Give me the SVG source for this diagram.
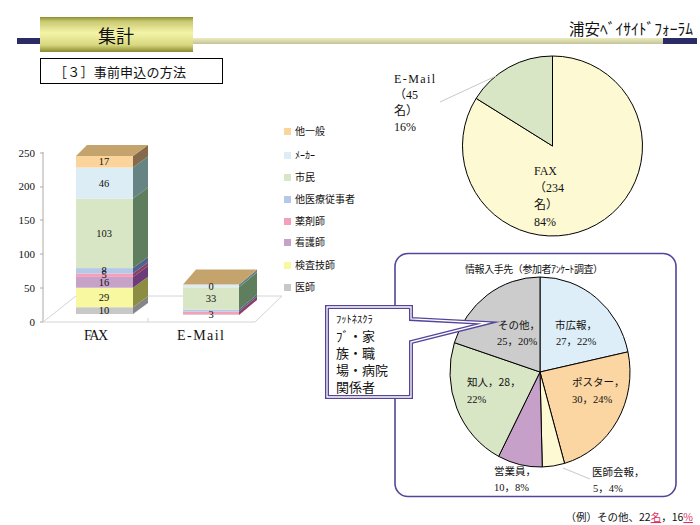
<svg xmlns="http://www.w3.org/2000/svg" width="700" height="525" viewBox="0 0 700 525">
<defs>
<linearGradient id="gTitle" x1="0" y1="0" x2="0" y2="1">
<stop offset="0" stop-color="#8e8e34"/>
<stop offset="0.12" stop-color="#c8c870"/>
<stop offset="0.45" stop-color="#f4f4a8"/>
<stop offset="0.8" stop-color="#d8d880"/>
<stop offset="1" stop-color="#8a8a30"/>
</linearGradient>
<linearGradient id="gBar" x1="0" y1="0" x2="0" y2="1">
<stop offset="0" stop-color="#ececc4"/>
<stop offset="1" stop-color="#c4c494"/>
</linearGradient>
</defs>
<style>
.t{font-family:"Liberation Serif","Noto Sans CJK JP",serif;fill:#111}
.j{font-family:"Noto Sans CJK JP","Liberation Serif",serif;fill:#111}
.ax{font-size:11px;text-anchor:end}
.dl{font-size:10.5px;text-anchor:middle}
.lg{font-size:10px}
.pl{font-size:12px}
.bl{font-size:10.5px}
.cl{font-size:13px}
.sl{stroke:#000;stroke-width:1}
.lead{stroke:#c8c8c8;stroke-width:1;fill:none}
.floor{stroke:#d4d4d4;stroke-width:1;fill:none}
</style>

<g id="header">
<rect x="17" y="38" width="24" height="6" fill="#2b2b66"/>
<rect x="193" y="38" width="471" height="6" fill="url(#gBar)"/>
<rect x="663" y="38" width="34" height="6" fill="#2b2b66"/>
<rect x="40" y="17" width="153" height="35" fill="url(#gTitle)"/>
<text class="j" x="116" y="43" font-size="18" text-anchor="middle">集計</text>
<text class="j" x="693" y="35" font-size="15.5" text-anchor="end">浦安ﾍﾞｲｻｲﾄﾞﾌｫｰﾗﾑ</text>
</g>

<g id="subtitle">
<rect x="40.5" y="58.5" width="182" height="25" fill="#fff" stroke="#000" stroke-width="1"/>
<text class="j" x="54" y="77" font-size="13" textLength="132">［３］事前申込の方法</text>
</g>

<g id="bar-chart">
<g id="axis">
<line x1="43" y1="152" x2="43" y2="322" stroke="#aaa"/>
<path d="M40,153H43M40,187H43M40,220H43M40,254H43M40,288H43M40,322H43" stroke="#aaa"/>
<path class="floor" d="M43,322L76,296H282L255,322ZM148,318V322"/>
<text class="t ax" x="35" y="157">250</text>
<text class="t ax" x="35" y="190">200</text>
<text class="t ax" x="35" y="224">150</text>
<text class="t ax" x="35" y="258">100</text>
<text class="t ax" x="35" y="292">50</text>
<text class="t ax" x="35" y="326">0</text>
</g>
<g id="bar-fax">
<rect x="76" y="307.25" width="57" height="6.75" fill="#c8c8c8"/>
<rect x="76" y="287.7" width="57" height="19.55" fill="#f8f8a0"/>
<rect x="76" y="276.9" width="57" height="10.8" fill="#c6a2c8"/>
<rect x="76" y="273.5" width="57" height="3.4" fill="#f4a0b8"/>
<rect x="76" y="268.1" width="57" height="5.4" fill="#b4c8e8"/>
<rect x="76" y="198.6" width="57" height="69.5" fill="#d8e6c6"/>
<rect x="76" y="167.5" width="57" height="31.1" fill="#dcedf5"/>
<rect x="76" y="156" width="57" height="11.5" fill="#fbd49c"/>
<polygon points="133,314 148,303 148,296.25 133,307.25" fill="#868686"/>
<polygon points="133,307.25 148,296.25 148,276.7 133,287.7" fill="#8c8c42"/>
<polygon points="133,287.7 148,276.7 148,265.9 133,276.9" fill="#6c3c78"/>
<polygon points="133,276.9 148,265.9 148,262.5 133,273.5" fill="#8e3e60"/>
<polygon points="133,273.5 148,262.5 148,257.1 133,268.1" fill="#52628e"/>
<polygon points="133,268.1 148,257.1 148,187.6 133,198.6" fill="#5e7e5e"/>
<polygon points="133,198.6 148,187.6 148,156.5 133,167.5" fill="#668484"/>
<polygon points="133,167.5 148,156.5 148,145 133,156" fill="#866a4c"/>
<polygon points="76,156 133,156 148,145 87,145" fill="#c4a46c"/>
<text class="t dl" x="104" y="314">10</text>
<text class="t dl" x="104" y="301">29</text>
<text class="t dl" x="104" y="286">16</text>
<text class="t dl" x="104" y="278" font-size="9.5">5</text>
<text class="t dl" x="104" y="274" font-size="9.5">8</text>
<text class="t dl" x="104" y="237">103</text>
<text class="t dl" x="104" y="187">46</text>
<text class="t dl" x="104" y="165">17</text>
</g>
<g id="bar-email">
<rect x="183" y="314.3" width="56" height="0.7" fill="#c8c8c8"/>
<rect x="183" y="311.6" width="56" height="2.7" fill="#f4a0b8"/>
<rect x="183" y="309.6" width="56" height="2" fill="#b4c8e8"/>
<rect x="183" y="287.3" width="56" height="22.3" fill="#d8e6c6"/>
<rect x="183" y="284.6" width="56" height="2.7" fill="#dcedf5"/>
<polygon points="239,315 257,300 257,296.6 239,311.6" fill="#8e3e60"/>
<polygon points="239,311.6 257,296.6 257,294.6 239,309.6" fill="#52628e"/>
<polygon points="239,309.6 257,294.6 257,272.3 239,287.3" fill="#5e7e5e"/>
<polygon points="239,287.3 257,272.3 257,269.6 239,284.6" fill="#668484"/>
<polygon points="183,284.6 239,284.6 257,269.6 196,269.6" fill="#c4a46c"/>
<text class="t dl" x="211" y="290">0</text>
<text class="t dl" x="211" y="302">33</text>
<text class="t dl" x="211" y="318">3</text>
</g>
<g id="categories">
<text class="t" x="84" y="340" font-size="14" textLength="24">FAX</text>
<text class="t" x="177" y="340" font-size="14" textLength="47">E-Mail</text>
</g>
</g>

<g id="legend">
<rect x="284" y="128" width="7" height="7" fill="#fbd49c"/>
<text class="j lg" x="295" y="135">他一般</text>
<rect x="284" y="152" width="7" height="7" fill="#dcedf5"/>
<text class="j lg" x="295" y="159">ﾒｰｶｰ</text>
<rect x="284" y="174" width="7" height="7" fill="#d8e6c6"/>
<text class="j lg" x="295" y="181">市民</text>
<rect x="284" y="196" width="7" height="7" fill="#b4c8e8"/>
<text class="j lg" x="295" y="203">他医療従事者</text>
<rect x="284" y="218" width="7" height="7" fill="#f4a0b8"/>
<text class="j lg" x="295" y="225">薬剤師</text>
<rect x="284" y="239" width="7" height="7" fill="#c6a2c8"/>
<text class="j lg" x="295" y="246">看護師</text>
<rect x="284" y="262" width="7" height="7" fill="#f8f8a0"/>
<text class="j lg" x="295" y="269">検査技師</text>
<rect x="284" y="284" width="7" height="7" fill="#c8c8c8"/>
<text class="j lg" x="295" y="291">医師</text>
</g>

<g id="pie-method">
<path class="sl" d="M552.5,146 L552.5,56 A90,90 0 1 1 476.13,98.37 Z" fill="#fdf9d2"/>
<path class="sl" d="M552.5,146 L476.13,98.37 A90,90 0 0 1 552.5,56 Z" fill="#d8e6c6"/>
<line class="lead" x1="440" y1="102" x2="496" y2="76"/>
<text class="t pl" x="394" y="83" textLength="41">E-Mail</text>
<text class="t pl" x="394" y="99">（45</text>
<text class="t pl" x="394" y="115">名）</text>
<text class="t pl" x="394" y="131">16%</text>
<text class="t pl" x="534" y="175" textLength="23">FAX</text>
<text class="t pl" x="534" y="192">（234</text>
<text class="t pl" x="534" y="209">名）</text>
<text class="t pl" x="534" y="226">84%</text>
</g>

<g id="info-panel">
<rect x="395" y="253.5" width="281" height="243" rx="13" fill="#fff" stroke="#55449a" stroke-width="1.6"/>
<text class="j" x="465" y="273" font-size="10" textLength="138">情報入手先（参加者ｱﾝｹｰﾄ調査）</text>
<g id="pie-info">
<path class="sl" d="M540,372 L540,277 A90,95 0 0 1 627.95,351.86 Z" fill="#ddeef8"/>
<path class="sl" d="M540,372 L627.95,351.86 A90,95 0 0 1 564.57,463.39 Z" fill="#fbd5a2"/>
<path class="sl" d="M540,372 L564.57,463.39 A90,95 0 0 1 542.26,466.97 Z" fill="#fdf9d2"/>
<path class="sl" d="M540,372 L542.26,466.97 A90,95 0 0 1 498.63,456.37 Z" fill="#c6a0c8"/>
<path class="sl" d="M540,372 L498.63,456.37 A90,95 0 0 1 454.40,342.64 Z" fill="#d8e6c6"/>
<path class="sl" d="M540,372 L454.40,342.64 A90,95 0 0 1 540,277 Z" fill="#cccccc"/>
<line class="lead" x1="563" y1="468" x2="590" y2="479"/>
<text class="j bl" x="498" y="329">その他，</text>
<text class="t bl" x="497" y="345">25，20%</text>
<text class="j bl" x="555" y="329">市広報，</text>
<text class="t bl" x="556" y="345">27，22%</text>
<text class="j bl" x="572" y="386">ポスター，</text>
<text class="t bl" x="572" y="403">30，24%</text>
<text class="j bl" x="592" y="476">医師会報，</text>
<text class="t bl" x="593" y="492">5，4%</text>
<text class="j bl" x="494" y="475">営業員，</text>
<text class="t bl" x="494" y="491">10，8%</text>
<text class="j bl" x="467" y="386">知人，28，</text>
<text class="t bl" x="467" y="403">22%</text>
</g>
</g>

<g id="callout">
<path d="M327,307 H411 V319 L487,323 L411,342 V397 H327 Z" fill="#fff" stroke="#55449a" stroke-width="4" stroke-linejoin="miter" stroke-miterlimit="20"/>
<path d="M327,307 H411 V319 L487,323 L411,342 V397 H327 Z" fill="none" stroke="#fff" stroke-width="1.3" stroke-linejoin="miter" stroke-miterlimit="20"/>
<text class="j" x="336" y="323" font-size="10.5">ﾌｯﾄﾈｽｸﾗ</text>
<text class="j cl" x="336" y="341">ﾌﾞ・家</text>
<text class="j cl" x="336" y="358">族・職</text>
<text class="j cl" x="336" y="375">場・病院</text>
<text class="j cl" x="336" y="392">関係者</text>
</g>

<g id="note">
<text class="j" x="693" y="521" font-size="10.5" text-anchor="end">（例）その他、22<tspan fill="#e0305e" text-decoration="underline">名</tspan>，16<tspan fill="#e0305e" text-decoration="underline">%</tspan></text>
</g>
</svg>
